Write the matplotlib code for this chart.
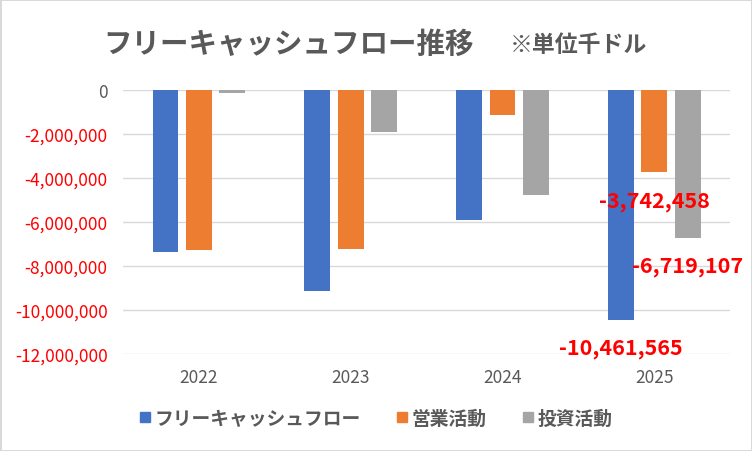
import numpy as np
import matplotlib.pyplot as plt
from matplotlib.lines import Line2D
from matplotlib.ticker import FuncFormatter

plt.rcParams['font.family'] = ['Noto Sans CJK JP', 'DejaVu Sans']

years = ['2022', '2023', '2024', '2025']
series_names = ['フリーキャッシュフロー', '営業活動', '投資活動']
free_cf = [-7350000, -9120000, -5930000, -10461565]
operating = [-7260000, -7230000, -1130000, -3742458]
investing = [-120000, -1900000, -4780000, -6719107]
colors = ['#4472C4', '#ED7D31', '#A5A5A5']

fig = plt.figure(figsize=(7.52, 4.52), dpi=100)
fig.patch.set_facecolor('white')
fig.patch.set_edgecolor('#D9D9D9')
fig.patch.set_linewidth(2)
ax = fig.add_axes([0.1636, 0.2146, 0.8074, 0.5841])

x = np.arange(len(years))
width = 0.17
step = 0.22
all_series = [free_cf, operating, investing]
bars = []
for i, (vals, name, c) in enumerate(zip(all_series, series_names, colors)):
    b = ax.bar(x + (i - 1) * step, vals, width, color=c, label=name, zorder=3)
    bars.append(b)

# labels only for the last year
for b in bars:
    rect = b[-1]
    ax.annotate(f'{rect.get_height():,.0f}',
                xy=(rect.get_x() + rect.get_width() / 2, rect.get_height()),
                xytext=(0, -20), textcoords='offset points',
                ha='center', va='center', color='#FF0000',
                fontsize=15.5, fontweight='bold', zorder=5)

ax.set_ylim(-12000000, 0)
ax.set_xlim(-0.5, 3.5)
ax.set_yticks(np.arange(-12000000, 1, 2000000))
ax.yaxis.set_major_formatter(FuncFormatter(lambda v, p: f'{v:,.0f}'))
ax.set_xticks(x)
ax.set_xticklabels(years)
for lbl, v in zip(ax.get_yticklabels(), ax.get_yticks()):
    lbl.set_color('#FF0000' if v < 0 else '#595959')
for lbl in ax.get_xticklabels():
    lbl.set_color('#595959')
ax.tick_params(axis='both', length=0, labelsize=12.5)
ax.tick_params(axis='y', pad=11)
ax.tick_params(axis='x', pad=10)
ax.grid(axis='y', color='#D9D9D9', linewidth=1, zorder=0)
for s in ax.spines.values():
    s.set_visible(False)

fig.text(0.137, 0.90, 'フリーキャッシュフロー推移',
         ha='left', va='center', fontsize=20.5, fontweight='bold', color='#595959')
fig.text(0.678, 0.90, '※単位千ドル',
         ha='left', va='center', fontsize=16.5, fontweight='bold', color='#595959')

handles = [Line2D([], [], marker='s', linestyle='', markersize=7, color=c) for c in colors]
leg = fig.legend(handles=handles, labels=series_names, loc='center',
                 bbox_to_anchor=(0.5, 0.072), ncol=3, frameon=False,
                 handlelength=0.6, handletextpad=0.2,
                 columnspacing=1.9, fontsize=13.5)
for t in leg.get_texts():
    t.set_color('#595959')
    t.set_fontweight('bold')

fig.savefig('out.png', dpi=100, facecolor=fig.get_facecolor(), edgecolor=fig.get_edgecolor())
